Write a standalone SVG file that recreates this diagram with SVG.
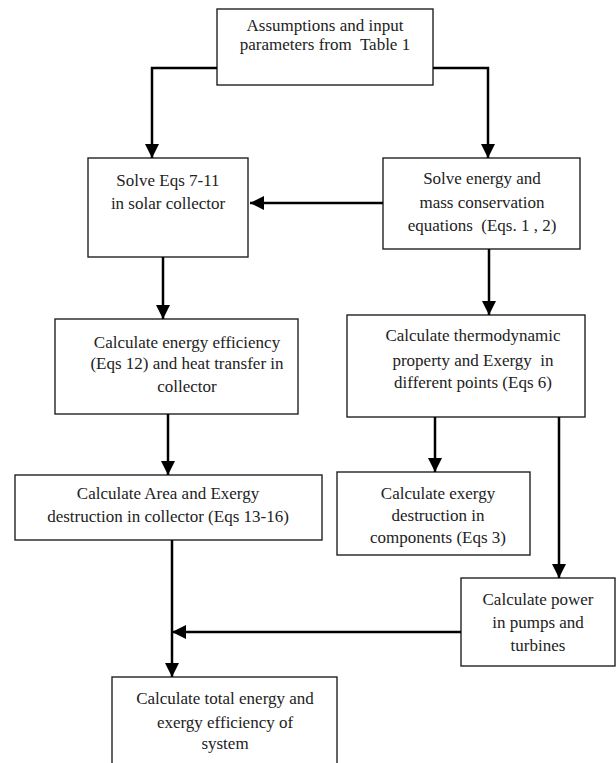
<svg xmlns="http://www.w3.org/2000/svg" width="616" height="763" viewBox="0 0 616 763">
<style>
.box{fill:#fff;stroke:#222;stroke-width:1.4}
.t{font-family:"Liberation Serif","Times New Roman","DejaVu Serif",serif;font-size:17px;fill:#222;text-anchor:middle;white-space:pre}
.c{fill:none;stroke:#000;stroke-width:2.5}
</style>
<defs>
<marker id="ah" markerUnits="userSpaceOnUse" markerWidth="14" markerHeight="14" viewBox="0 0 14 14" refX="14" refY="7" orient="auto">
<path d="M0,0 L14,7 L0,14 Z" fill="#000"/>
</marker>
</defs>
<rect width="616" height="763" fill="#fff"/>
<g id="n1"><rect class="box" x="217" y="9" width="216" height="76"/>
<text class="t" x="325" y="31">Assumptions and input</text>
<text class="t" x="325" y="50" xml:space="preserve">parameters from  Table 1</text></g>
<g id="n2"><rect class="box" x="88" y="158" width="160" height="99"/>
<text class="t" x="168" y="186">Solve Eqs 7-11</text>
<text class="t" x="168" y="209">in solar collector</text></g>
<g id="n3"><rect class="box" x="383" y="158" width="197" height="91"/>
<text class="t" x="482" y="184">Solve energy and</text>
<text class="t" x="482" y="208">mass conservation</text>
<text class="t" x="482" y="231" xml:space="preserve">equations  (Eqs. 1 , 2)</text></g>
<g id="n4"><rect class="box" x="55" y="319" width="243" height="95"/>
<text class="t" x="187" y="348">Calculate energy efficiency</text>
<text class="t" x="187" y="369">(Eqs 12) and heat transfer in</text>
<text class="t" x="187" y="392">collector</text></g>
<g id="n5"><rect class="box" x="347" y="315" width="238" height="102"/>
<text class="t" x="473" y="341">Calculate thermodynamic</text>
<text class="t" x="473" y="366" xml:space="preserve">property and Exergy  in</text>
<text class="t" x="473" y="388">different points (Eqs 6)</text></g>
<g id="n6"><rect class="box" x="15" y="475" width="307" height="65"/>
<text class="t" x="168" y="499">Calculate Area and Exergy</text>
<text class="t" x="168" y="522">destruction in collector (Eqs 13-16)</text></g>
<g id="n7"><rect class="box" x="337" y="472" width="193" height="83"/>
<text class="t" x="438" y="499">Calculate exergy</text>
<text class="t" x="438" y="521">destruction in</text>
<text class="t" x="438" y="543">components (Eqs 3)</text></g>
<g id="n8"><rect class="box" x="461" y="578" width="154" height="88"/>
<text class="t" x="538" y="605">Calculate power</text>
<text class="t" x="538" y="628">in pumps and</text>
<text class="t" x="538" y="651">turbines</text></g>
<g id="n9"><rect class="box" x="112" y="677" width="225" height="100"/>
<text class="t" x="225" y="704">Calculate total energy and</text>
<text class="t" x="225" y="728">exergy efficiency of</text>
<text class="t" x="225" y="749">system</text></g>
<g id="connectors">
<path class="c" d="M217,68 H152 V158" marker-end="url(#ah)"/>
<path class="c" d="M433,68 H488 V158" marker-end="url(#ah)"/>
<path class="c" d="M383,203 H250" marker-end="url(#ah)"/>
<path class="c" d="M163,257 V319" marker-end="url(#ah)"/>
<path class="c" d="M489,249 V315" marker-end="url(#ah)"/>
<path class="c" d="M168,414 V475" marker-end="url(#ah)"/>
<path class="c" d="M435,417 V472" marker-end="url(#ah)"/>
<path class="c" d="M559,417 V578" marker-end="url(#ah)"/>
<path class="c" d="M172,540 V677" marker-end="url(#ah)"/>
<path class="c" d="M461,632 H172" marker-end="url(#ah)"/>
</g>
</svg>
